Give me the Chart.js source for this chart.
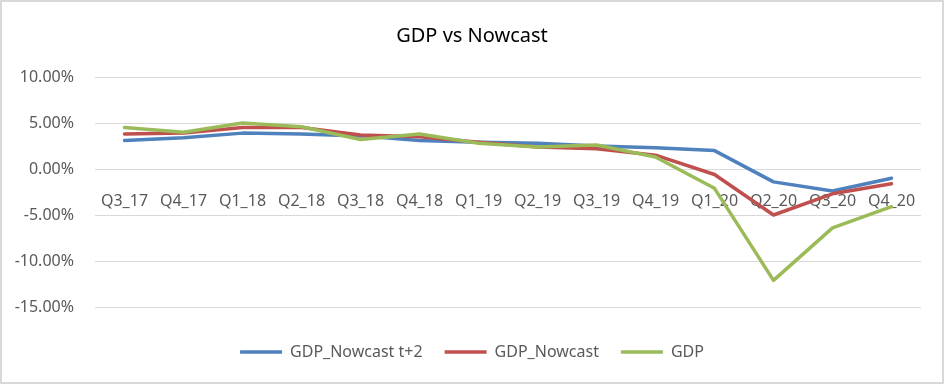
<!DOCTYPE html>
<html>
<head>
<meta charset="utf-8">
<script src="https://cdn.jsdelivr.net/npm/chart.js@4"></script>
<style>
  body { margin: 0; background: #fff; }
  #wrap { width: 944px; height: 384px; box-sizing: border-box; border: 2px solid #d9d9d9; background: #fff; }
</style>
</head>
<body>
<div id="wrap"><canvas id="chart"></canvas></div>
<script>
// quarters and growth rates (%)
const quarters = ['Q3_17', 'Q4_17', 'Q1_18', 'Q2_18', 'Q3_18', 'Q4_18', 'Q1_19',
                  'Q2_19', 'Q3_19', 'Q4_19', 'Q1_20', 'Q2_20', 'Q3_20', 'Q4_20'];
const nowcastT2 = [3.1, 3.4, 3.9, 3.8, 3.6, 3.1, 2.9, 2.8, 2.5, 2.3, 2.0, -1.4, -2.4, -1.0];
const nowcast = [3.8, 3.9, 4.5, 4.5, 3.7, 3.5, 2.9, 2.4, 2.2, 1.5, -0.6, -5.0, -2.7, -1.6];
const gdp = [4.5, 4.0, 5.0, 4.6, 3.2, 3.8, 2.8, 2.4, 2.6, 1.3, -2.1, -12.1, -6.4, -4.1];
const yTicks = [10, 5, 0, -5, -10, -15];

const FONT = '"Noto Sans", sans-serif';
const TEXT = '#595959';
const GRID = '#d9d9d9';

function line(label, data, color, order) {
    return {
        label: label,
        data: data,
        borderColor: color,
        backgroundColor: color,
        borderWidth: 3.5,
        borderCapStyle: 'round',
        borderJoinStyle: 'round',
        pointRadius: 0,
        pointHoverRadius: 0,
        tension: 0,
        order: order
    };
}

new Chart(document.getElementById('chart'), {
    type: 'line',
    data: {
        labels: quarters,
        datasets: [
            line('GDP_Nowcast t+2', nowcastT2, '#4f81bd', 3),
            line('GDP_Nowcast', nowcast, '#c0504d', 2),
            line('GDP', gdp, '#9bbb59', 1)
        ]
    },
    options: {
        responsive: true,
        maintainAspectRatio: false,
        animation: false,
        layout: { padding: { top: 0, left: 0, right: 0, bottom: 12 } },
        scales: {
            x: {
                position: { y: 0 },
                offset: true,
                grid: { display: false, drawTicks: false },
                border: { display: false },
                ticks: {
                    color: TEXT,
                    font: { family: FONT, size: 16 },
                    padding: 23,
                    maxRotation: 0,
                    autoSkip: false
                }
            },
            xB: {
                type: 'category',
                position: 'bottom',
                grid: { display: false, drawTicks: false },
                border: { display: false },
                ticks: { display: false },
                afterFit: s => { s.height = 15; }
            },
            y: {
                min: -15,
                max: 10,
                afterBuildTicks: s => { s.ticks = yTicks.map(v => ({ value: v })); },
                grid: { color: GRID, lineWidth: 1, drawTicks: false },
                border: { display: false },
                ticks: {
                    color: TEXT,
                    font: { family: FONT, size: 16 },
                    padding: 21,
                    callback: v => v.toFixed(2) + '%'
                },
                afterFit: s => { s.width = 93; }
            },
            yR: {
                position: 'right',
                grid: { display: false, drawTicks: false },
                border: { display: false },
                ticks: { display: false },
                afterFit: s => { s.width = 21; }
            }
        },
        plugins: {
            title: {
                display: true,
                text: 'GDP vs Nowcast',
                color: '#000',
                font: { family: FONT, size: 20, weight: 'normal' },
                padding: { top: 22, bottom: 29 }
            },
            legend: {
                position: 'bottom',
                labels: {
                    color: TEXT,
                    font: { family: FONT, size: 16 },
                    usePointStyle: true,
                    pointStyle: 'line',
                    pointStyleWidth: 42,
                    padding: 22,
                    sort: (a, b) => a.datasetIndex - b.datasetIndex
                }
            },
            tooltip: { enabled: false }
        }
    }
});
</script>
</body>
</html>
